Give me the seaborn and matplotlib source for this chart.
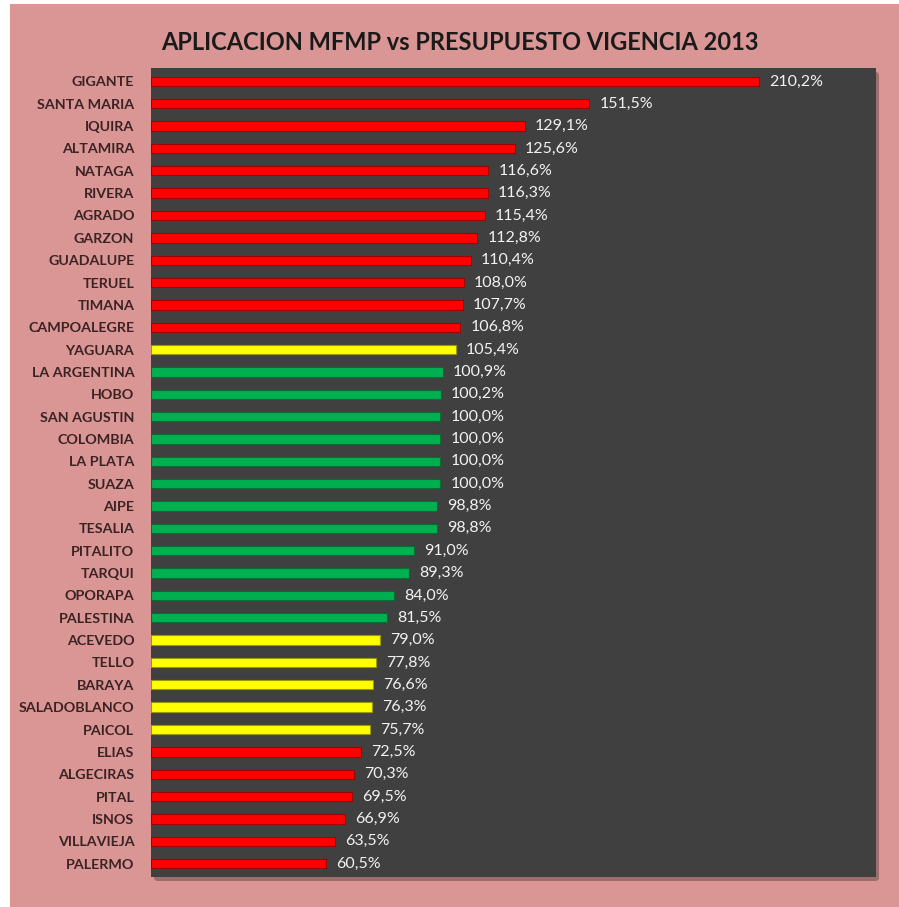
import matplotlib
matplotlib.use("Agg")
import matplotlib.pyplot as plt
import seaborn as sns
import pandas as pd
from matplotlib.patches import FancyBboxPatch, Rectangle

municipios = [
    "GIGANTE", "SANTA MARIA", "IQUIRA", "ALTAMIRA", "NATAGA", "RIVERA",
    "AGRADO", "GARZON", "GUADALUPE", "TERUEL", "TIMANA", "CAMPOALEGRE",
    "YAGUARA", "LA ARGENTINA", "HOBO", "SAN AGUSTIN", "COLOMBIA",
    "LA PLATA", "SUAZA", "AIPE", "TESALIA", "PITALITO", "TARQUI",
    "OPORAPA", "PALESTINA", "ACEVEDO", "TELLO", "BARAYA", "SALADOBLANCO",
    "PAICOL", "ELIAS", "ALGECIRAS", "PITAL", "ISNOS", "VILLAVIEJA",
    "PALERMO",
]
ejecucion = [
    210.2, 151.5, 129.1, 125.6, 116.6, 116.3, 115.4, 112.8, 110.4, 108.0,
    107.7, 106.8, 105.4, 100.9, 100.2, 100.0, 100.0, 100.0, 100.0, 98.8,
    98.8, 91.0, 89.3, 84.0, 81.5, 79.0, 77.8, 76.6, 76.3, 75.7, 72.5,
    70.3, 69.5, 66.9, 63.5, 60.5,
]
semaforo = (["rojo"] * 12 + ["amarillo"] + ["verde"] * 12
            + ["amarillo"] * 5 + ["rojo"] * 6)

colores = {"rojo": "#FF0000", "amarillo": "#FFFF00", "verde": "#00B050"}
bordes = {"rojo": "#A00000", "amarillo": "#9A9A00", "verde": "#007030"}
fondo = "#D99694"
panel = "#404040"

df = pd.DataFrame({"municipio": municipios, "pct": ejecucion, "estado": semaforo})

fig = plt.figure(figsize=(8.99, 9.07), dpi=100)
fig.patch.set_facecolor("white")
# pink card behind the chart
fig.patches.append(Rectangle((10 / 899, 0), 1, 1 - 4 / 907,
                             transform=fig.transFigure, facecolor=fondo,
                             edgecolor="none", zorder=-10))

left, right = 151 / 899, 876 / 899
top, bottom = 1 - 68 / 907, 1 - 877 / 907
ax = fig.add_axes([left, bottom, right - left, top - bottom])

# drop shadow of the plotting panel
fig.patches.append(FancyBboxPatch((left + 3 / 899, bottom - 4 / 907),
                                  right - left, top - bottom,
                                  boxstyle="round,pad=0,rounding_size=0.004",
                                  transform=fig.transFigure,
                                  facecolor="#6e4e4e", edgecolor="none",
                                  alpha=0.55, zorder=-5))
ax.set_facecolor(panel)

sns.barplot(data=df, y="municipio", x="pct", hue="estado", palette=colores,
            orient="h", width=0.42, dodge=False, legend=False, ax=ax,
            edgecolor="none", saturation=1)

# darker rim on each bar for a slightly raised look
for bar in ax.patches:
    fc = bar.get_facecolor()
    key = min(colores, key=lambda k: sum(abs(a - b) for a, b in
              zip(matplotlib.colors.to_rgb(colores[k]), fc[:3])))
    bar.set_edgecolor(bordes[key])
    bar.set_linewidth(0.8)

for i, val in enumerate(ejecucion):
    ax.text(val + 3.5, i, f"{val:.1f}%".replace(".", ","),
            va="center", ha="left", color="#F2F2F2", fontsize=11.5,
            family="Lato")

ax.set_xlim(0, 250.5)
ax.set_ylim(len(municipios) - 0.4, -0.6)
ax.set_xlabel("")
ax.set_ylabel("")
ax.set_xticks([])
for s in ax.spines.values():
    s.set_visible(False)
ax.tick_params(axis="y", length=0, pad=12)
for lbl in ax.get_yticklabels():
    lbl.set_fontfamily("Lato")
    lbl.set_fontweight("bold")
    lbl.set_fontsize(10.3)
    lbl.set_color("#3B2324")

fig.text(460 / 899, 1 - 42 / 907, "APLICACION MFMP vs PRESUPUESTO VIGENCIA 2013",
         ha="center", va="center", fontsize=17, fontweight="bold",
         family="Lato", color="#1a1a1a")

fig.savefig("out.png", dpi=100, facecolor=fig.get_facecolor())
